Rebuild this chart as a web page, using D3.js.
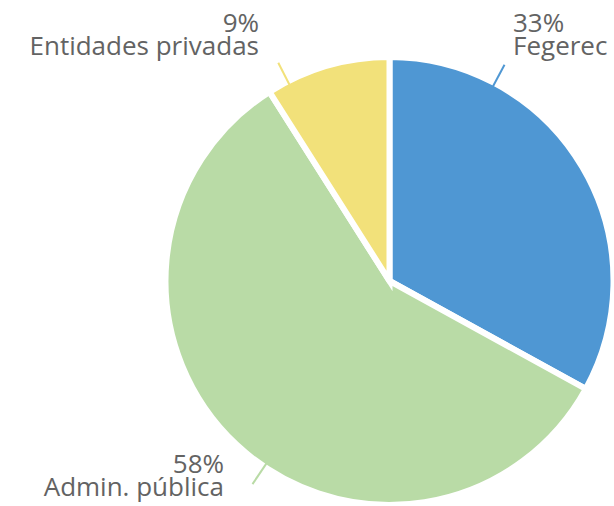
<!DOCTYPE html>
<html><head><meta charset="utf-8">
<script src="https://cdn.jsdelivr.net/npm/d3@7"></script>
<style>html,body{margin:0;padding:0;background:#fff;}svg{display:block;}</style>
</head><body>
<svg id="c" width="614" height="506"></svg>
<script>
const categories = ["Fegerec", "Admin. pública", "Entidades privadas"];
const values = [33, 58, 9];
const percentLabels = ["33%", "58%", "9%"];
const colors = ["#4f97d3", "#b9dba6", "#f2e17a"];
// angle (degrees clockwise from 12 o'clock) of each leader line
const leaderAngles = [28, 214, -27];

const W = 614, H = 506;
const cx = 389.5, cy = 281, R = 224;
const svg = d3.select("#c");
const g = svg.append("g").attr("transform", `translate(${cx},${cy})`);

const pie = d3.pie().sort(null).value(d => d)(values);
const arc = d3.arc().innerRadius(0).outerRadius(R);

g.selectAll("path.slice").data(pie).enter().append("path")
  .attr("d", arc)
  .attr("fill", (d, i) => colors[i])
  .attr("stroke", "#fff")
  .attr("stroke-width", 6)
  .attr("stroke-linejoin", "miter");

// leader lines
const rad = a => a * Math.PI / 180;
g.selectAll("line.lead").data(leaderAngles).enter().append("line")
  .attr("x1", a => Math.sin(rad(a)) * (R - 4))
  .attr("y1", a => -Math.cos(rad(a)) * (R - 4))
  .attr("x2", a => Math.sin(rad(a)) * (R + 21))
  .attr("y2", a => -Math.cos(rad(a)) * (R + 21))
  .attr("stroke", (a, i) => colors[i])
  .attr("stroke-width", 2);

// labels: positions relative to page
const labelPos = [
  {x: 513, y: 32, anchor: "start"},
  {x: 224, y: 473, anchor: "end"},
  {x: 259, y: 32, anchor: "end"}
];
const font = "'Open Sans', sans-serif";
categories.forEach((c, i) => {
  const p = labelPos[i];
  [percentLabels[i], c].forEach((txt, k) => {
    svg.append("text")
      .attr("x", p.x).attr("y", p.y + k * 23)
      .attr("text-anchor", p.anchor)
      .attr("font-family", font)
      .attr("font-size", 26)
      .attr("fill", "#636363")
      .text(txt);
  });
});
</script>
</body></html>
